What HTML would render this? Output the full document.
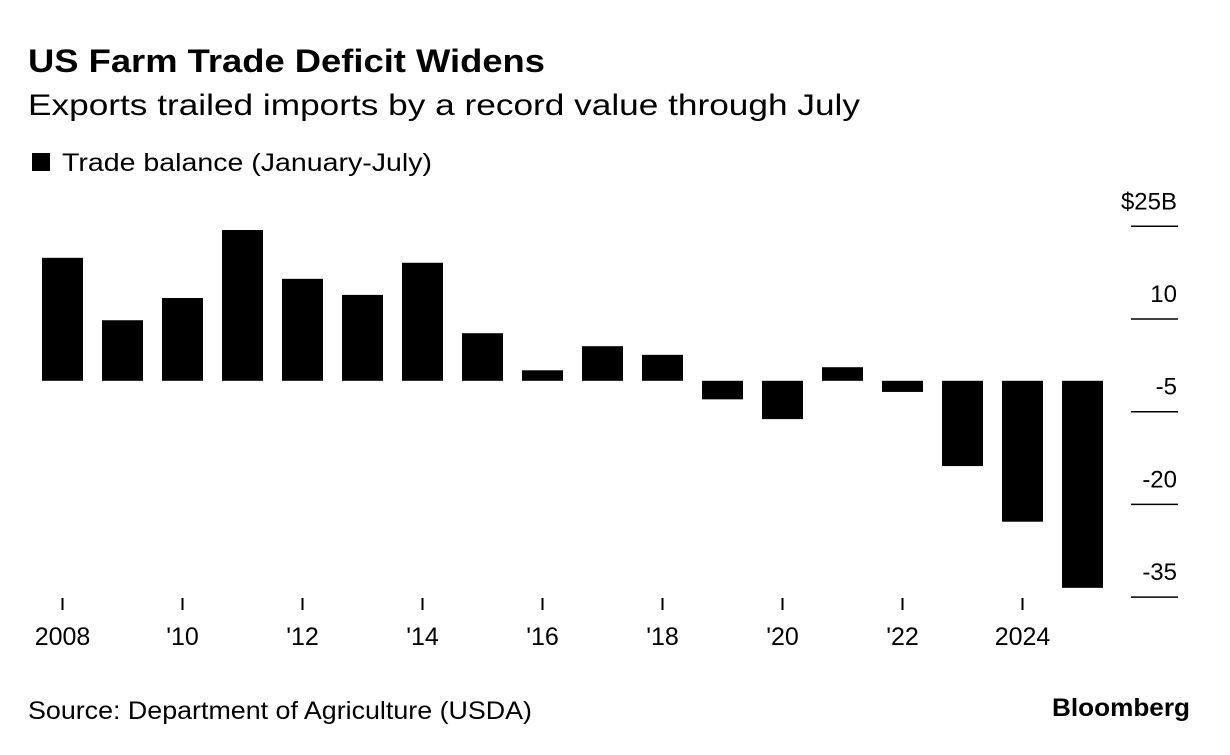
<!DOCTYPE html>
<html><head><meta charset="utf-8"><style>
body{margin:0;background:#fff;font-family:"Liberation Sans",sans-serif;color:#000;}
</style></head><body>
<svg width="1230" height="750" xmlns="http://www.w3.org/2000/svg" font-family="Liberation Sans, sans-serif">
<text x="28" y="72" font-size="32" font-weight="bold" textLength="517" lengthAdjust="spacingAndGlyphs">US Farm Trade Deficit Widens</text>
<text x="28" y="115" font-size="30" textLength="832" lengthAdjust="spacingAndGlyphs">Exports trailed imports by a record value through July</text>
<rect x="32" y="153" width="18" height="18" fill="#000"/>
<text x="62" y="171" font-size="25" textLength="370" lengthAdjust="spacingAndGlyphs">Trade balance (January-July)</text>
<g id="axis"></g>
<g id="bars"></g>
<g id="xaxis"></g>
<text x="28" y="719" font-size="25" textLength="504" lengthAdjust="spacingAndGlyphs">Source: Department of Agriculture (USDA)</text>
<text x="1190" y="716" font-size="25" font-weight="bold" text-anchor="end" textLength="138" lengthAdjust="spacingAndGlyphs">Bloomberg</text>
</svg>
<script>
const years=[2008,2009,2010,2011,2012,2013,2014,2015,2016,2017,2018,2019,2020,2021,2022,2023,2024,2025];
const values=[19.9,9.8,13.4,24.4,16.5,13.9,19.1,7.7,1.7,5.6,4.2,-3.0,-6.2,2.2,-1.8,-13.8,-22.8,-33.5];
const yTicks=[25,10,-5,-20,-35];
const yTickLabels=["$25B","10","-5","-20","-35"];
const xTickYears=[2008,2010,2012,2014,2016,2018,2020,2022,2024];
const xTickLabels=["2008","'10","'12","'14","'16","'18","'20","'22","2024"];
const NS="http://www.w3.org/2000/svg";
function y(v){return 380.8-v*6.18;}
function x(yr){return 62.5+(yr-2008)*60;}
function mk(tag,attrs,parent){const e=document.createElementNS(NS,tag);for(const k in attrs)e.setAttribute(k,attrs[k]);document.getElementById(parent).appendChild(e);return e;}
yTicks.forEach((t,i)=>{
 const l=mk('line',{x1:1131,x2:1178,y1:y(t),y2:y(t),stroke:'#000','stroke-width':1.5},'axis');
 
 
 const tx=mk('text',{x:1177,y:y(t)-17,'font-size':24,'text-anchor':'end'},'axis');
 tx.textContent=yTickLabels[i];
 
 
});
years.forEach((yr,i)=>{
 const v=values[i];
 const r=mk('rect',{x:x(yr)-20.5,width:41,y:Math.min(y(v),y(0)),height:Math.abs(y(v)-y(0)),fill:'#000'},'bars');
 
 
});
xTickYears.forEach((yr,i)=>{
 const l=mk('line',{x1:x(yr),x2:x(yr),y1:598,y2:610,stroke:'#000','stroke-width':2},'xaxis');
 
 
 const tx=mk('text',{x:x(yr),y:645,'font-size':25,'text-anchor':'middle'},'xaxis');
 tx.textContent=xTickLabels[i];
 
 
});
</script>
</body></html>
